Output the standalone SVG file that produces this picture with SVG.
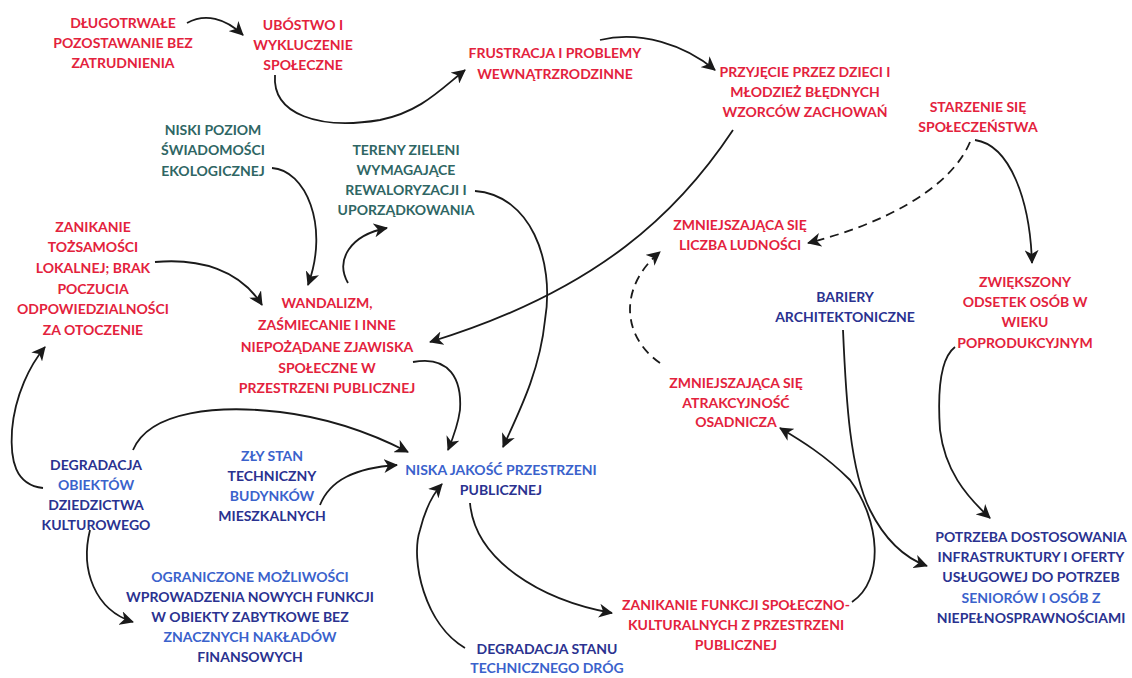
<svg xmlns="http://www.w3.org/2000/svg" width="1132" height="678" viewBox="0 0 1132 678">
<style>
text{font-family:Lato,"Liberation Sans",sans-serif;font-weight:700;font-size:14px;text-anchor:middle}
.r{fill:#e3223c}
.t{fill:#2f6664}
.n{fill:#2a3290}
.b{fill:#3a62cc}
.c{fill:none;stroke:#1a1a1a;stroke-width:1.8}
.d{stroke-dasharray:9 6}
</style>
<defs>
<marker id="ah" markerUnits="userSpaceOnUse" markerWidth="16" markerHeight="14" refX="13" refY="7" orient="auto">
<path d="M0,0 L14,7 L0,14 L4,7 z" fill="#1a1a1a"/>
</marker>
</defs>
<rect width="1132" height="678" fill="#fff"/>
<g id="connectors">
<path class="c" marker-end="url(#ah)" d="M187,23 C205,13 225,18 243,35"/>
<path class="c" marker-end="url(#ah)" d="M275,75 C272,115 320,130 380,120 C420,112 440,90 465,70"/>
<path class="c" marker-end="url(#ah)" d="M600,40 C640,30 685,45 715,70"/>
<path class="c" marker-end="url(#ah)" d="M272,168 C305,170 330,225 308,285"/>
<path class="c" marker-end="url(#ah)" d="M348,283 C335,260 350,235 387,228"/>
<path class="c" marker-end="url(#ah)" d="M475,191 C530,195 555,260 545,320 C540,370 520,410 503,447"/>
<path class="c" marker-end="url(#ah)" d="M155,262 C200,258 240,270 262,305"/>
<path class="c" marker-end="url(#ah)" d="M733,130 C680,210 600,290 430,342"/>
<path class="c" marker-end="url(#ah)" d="M413,362 C450,355 462,380 460,410 C458,425 453,438 448,450"/>
<path class="c d" marker-end="url(#ah)" d="M970,142 C950,190 880,225 808,243"/>
<path class="c" marker-end="url(#ah)" d="M975,140 C1010,145 1030,200 1032,263"/>
<path class="c" marker-end="url(#ah)" d="M843,330 C846,400 850,470 870,510 C885,540 905,558 927,566"/>
<path class="c d" marker-end="url(#ah)" d="M660,363 C620,335 620,285 660,252"/>
<path class="c" marker-end="url(#ah)" d="M852,602 C885,580 880,520 850,480 C825,455 800,440 780,428"/>
<path class="c" marker-end="url(#ah)" d="M470,503 C475,560 540,600 612,613"/>
<path class="c" marker-end="url(#ah)" d="M465,648 C425,625 410,560 420,530 C425,510 432,495 442,484"/>
<path class="c" marker-end="url(#ah)" d="M320,505 C330,480 355,468 397,465"/>
<path class="c" marker-end="url(#ah)" d="M133,450 C150,410 220,405 280,412 C330,418 375,435 408,452"/>
<path class="c" marker-end="url(#ah)" d="M43,488 C15,485 10,460 12,430 C15,395 30,365 45,347"/>
<path class="c" marker-end="url(#ah)" d="M90,530 C80,570 95,610 133,622"/>
<path class="c" marker-end="url(#ah)" d="M955,347 C938,360 938,400 940,430 C945,470 965,495 990,518"/>
</g>
<g id="n1" class="r"><text x="123" y="28">DŁUGOTRWAŁE</text><text x="123" y="48">POZOSTAWANIE BEZ</text><text x="123" y="68">ZATRUDNIENIA</text></g>
<g id="n2" class="r"><text x="303" y="30">UBÓSTWO I</text><text x="303" y="50">WYKLUCZENIE</text><text x="303" y="70">SPOŁECZNE</text></g>
<g id="n3" class="r"><text x="555" y="58">FRUSTRACJA I PROBLEMY</text><text x="555" y="79">WEWNĄTRZRODZINNE</text></g>
<g id="n4" class="r"><text x="805" y="77">PRZYJĘCIE PRZEZ DZIECI I</text><text x="805" y="97">MŁODZIEŻ BŁĘDNYCH</text><text x="805" y="117">WZORCÓW ZACHOWAŃ</text></g>
<g id="n5" class="r"><text x="978" y="112">STARZENIE SIĘ</text><text x="978" y="132">SPOŁECZEŃSTWA</text></g>
<g id="n6" class="t"><text x="213" y="135">NISKI POZIOM</text><text x="213" y="155">ŚWIADOMOŚCI</text><text x="213" y="176">EKOLOGICZNEJ</text></g>
<g id="n7" class="t"><text x="406" y="155">TERENY ZIELENI</text><text x="406" y="175">WYMAGAJĄCE</text><text x="406" y="195">REWALORYZACJI I</text><text x="406" y="215">UPORZĄDKOWANIA</text></g>
<g id="n8" class="r"><text x="93" y="232">ZANIKANIE</text><text x="93" y="252">TOŻSAMOŚCI</text><text x="93" y="273">LOKALNEJ; BRAK</text><text x="93" y="294">POCZUCIA</text><text x="93" y="314">ODPOWIEDZIALNOŚCI</text><text x="93" y="335">ZA OTOCZENIE</text></g>
<g id="n9" class="r"><text x="327" y="308">WANDALIZM,</text><text x="327" y="330">ZAŚMIECANIE I INNE</text><text x="327" y="352">NIEPOŻĄDANE ZJAWISKA</text><text x="327" y="373">SPOŁECZNE W</text><text x="327" y="393">PRZESTRZENI PUBLICZNEJ</text></g>
<g id="n10" class="r"><text x="740" y="230">ZMNIEJSZAJĄCA SIĘ</text><text x="740" y="250">LICZBA LUDNOŚCI</text></g>
<g id="n11" class="r"><text x="1025" y="287">ZWIĘKSZONY</text><text x="1025" y="307">ODSETEK OSÓB W</text><text x="1025" y="327">WIEKU</text><text x="1025" y="348">POPRODUKCYJNYM</text></g>
<g id="n12" class="n"><text x="845" y="302">BARIERY</text><text x="845" y="322">ARCHITEKTONICZNE</text></g>
<g id="n13" class="r"><text x="736" y="388">ZMNIEJSZAJĄCA SIĘ</text><text x="736" y="408">ATRAKCYJNOŚĆ</text><text x="736" y="427">OSADNICZA</text></g>
<g id="n14"><text class="b" x="501" y="475">NISKA JAKOŚĆ PRZESTRZENI</text><text class="n" x="501" y="495">PUBLICZNEJ</text></g>
<g id="n15" class="r"><text x="736" y="610">ZANIKANIE FUNKCJI SPOŁECZNO-</text><text x="736" y="630">KULTURALNYCH Z PRZESTRZENI</text><text x="736" y="650">PUBLICZNEJ</text></g>
<g id="n16"><text class="n" x="547" y="654">DEGRADACJA STANU</text><text class="b" x="547" y="673">TECHNICZNEGO DRÓG</text></g>
<g id="n17"><text class="b" x="272" y="461">ZŁY STAN</text><text class="n" x="272" y="481">TECHNICZNY</text><text class="b" x="272" y="501">BUDYNKÓW</text><text class="n" x="272" y="521">MIESZKALNYCH</text></g>
<g id="n18"><text class="n" x="96" y="470">DEGRADACJA</text><text class="b" x="96" y="490">OBIEKTÓW</text><text class="n" x="96" y="510">DZIEDZICTWA</text><text class="n" x="96" y="530">KULTUROWEGO</text></g>
<g id="n19"><text class="b" x="250" y="582">OGRANICZONE MOŻLIWOŚCI</text><text class="n" x="250" y="602">WPROWADZENIA NOWYCH FUNKCJI</text><text class="n" x="250" y="622">W OBIEKTY ZABYTKOWE BEZ</text><text class="b" x="250" y="642">ZNACZNYCH NAKŁADÓW</text><text class="n" x="250" y="662">FINANSOWYCH</text></g>
<g id="n20"><text class="n" x="1031" y="542">POTRZEBA DOSTOSOWANIA</text><text class="n" x="1031" y="562">INFRASTRUKTURY I OFERTY</text><text class="n" x="1031" y="582">USŁUGOWEJ DO POTRZEB</text><text class="b" x="1031" y="603">SENIORÓW I OSÓB Z</text><text class="n" x="1031" y="623">NIEPEŁNOSPRAWNOŚCIAMI</text></g>
</svg>
